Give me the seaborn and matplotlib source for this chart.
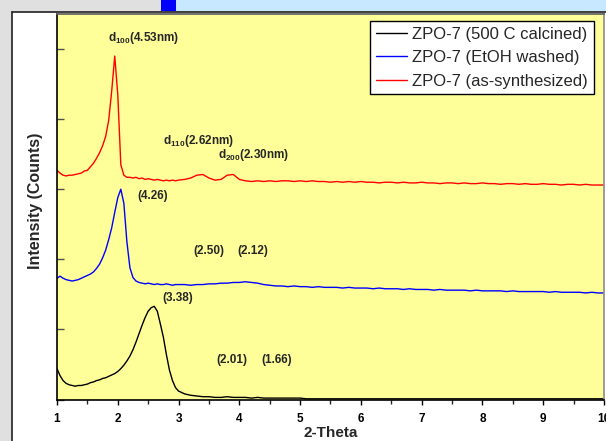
import matplotlib
matplotlib.use("Agg")
import matplotlib.pyplot as plt
from matplotlib.patches import Rectangle
from matplotlib.lines import Line2D
from matplotlib.ticker import MultipleLocator
import seaborn as sns
import pandas as pd

# ---------------- data ----------------
two_theta = [1.00, 1.05, 1.10, 1.15, 1.20, 1.25, 1.30, 1.35, 1.40, 1.45,
             1.50, 1.55, 1.60, 1.65, 1.70, 1.75, 1.80, 1.85, 1.90, 1.95,
             2.00, 2.05, 2.10, 2.15, 2.20, 2.25, 2.30, 2.35, 2.40, 2.45,
             2.50, 2.55, 2.60, 2.65, 2.70, 2.75, 2.80, 2.85, 2.90, 2.95,
             3.00, 3.1, 3.2, 3.3, 3.4, 3.5, 3.6, 3.7, 3.8, 3.9,
             4.0, 4.1, 4.2, 4.3, 4.4, 4.5, 4.6, 4.7, 4.8, 4.9,
             5.0, 5.1, 5.2, 5.3, 5.4, 5.5, 5.6, 5.7, 5.8, 5.9,
             6.0, 6.1, 6.2, 6.3, 6.4, 6.5, 6.6, 6.7, 6.8, 6.9,
             7.0, 7.1, 7.2, 7.3, 7.4, 7.5, 7.6, 7.7, 7.8, 7.9,
             8.0, 8.1, 8.2, 8.3, 8.4, 8.5, 8.6, 8.7, 8.8, 8.9,
             9.0, 9.1, 9.2, 9.3, 9.4, 9.5, 9.6, 9.7, 9.8, 9.9, 10.0]

calcined = [0.44, 0.34, 0.27, 0.23, 0.21, 0.20, 0.19, 0.20, 0.20, 0.21,
            0.22, 0.24, 0.25, 0.27, 0.28, 0.30, 0.31, 0.33, 0.35, 0.37,
            0.40, 0.44, 0.49, 0.55, 0.62, 0.71, 0.82, 0.94, 1.06, 1.17,
            1.26, 1.31, 1.33, 1.26, 1.08, 0.89, 0.64, 0.42, 0.27, 0.17,
            0.12, 0.08, 0.06, 0.05, 0.04, 0.04, 0.03, 0.03, 0.04, 0.03,
            0.03, 0.03, 0.02, 0.03, 0.02, 0.02, 0.02, 0.02, 0.02, 0.02,
            0.02, 0.01, 0.01, 0.01, 0.01, 0.01, 0.01, 0.01, 0.01, 0.01,
            0.01, 0.01, 0.01, 0.01, 0.01, 0.01, 0.01, 0.01, 0.01, 0.01,
            0.01, 0.01, 0.01, 0.01, 0.01, 0.01, 0.01, 0.01, 0.01, 0.01,
            0.01, 0.01, 0.01, 0.01, 0.01, 0.01, 0.01, 0.01, 0.01, 0.01,
            0.01, 0.01, 0.01, 0.01, 0.01, 0.01, 0.01, 0.01, 0.01, 0.01, 0.01]

etoh_washed = [1.73, 1.76, 1.73, 1.71, 1.70, 1.69, 1.70, 1.71, 1.73, 1.75,
               1.77, 1.79, 1.82, 1.87, 1.93, 2.02, 2.13, 2.28, 2.45, 2.67,
               2.88, 3.00, 2.80, 2.25, 1.88, 1.74, 1.69, 1.67, 1.66, 1.65,
               1.66, 1.65, 1.64, 1.65, 1.64, 1.64, 1.65, 1.64, 1.63, 1.64,
               1.64, 1.64, 1.63, 1.64, 1.64, 1.65, 1.65, 1.66, 1.66, 1.67,
               1.67, 1.68, 1.67, 1.66, 1.64, 1.63, 1.62, 1.62, 1.61, 1.62,
               1.61, 1.61, 1.60, 1.61, 1.60, 1.60, 1.60, 1.59, 1.60, 1.59,
               1.59, 1.59, 1.58, 1.59, 1.58, 1.58, 1.58, 1.57, 1.58, 1.57,
               1.57, 1.57, 1.56, 1.57, 1.56, 1.56, 1.56, 1.56, 1.55, 1.56,
               1.55, 1.55, 1.55, 1.55, 1.54, 1.55, 1.54, 1.54, 1.54, 1.54,
               1.54, 1.53, 1.54, 1.53, 1.53, 1.53, 1.53, 1.52, 1.53, 1.52, 1.52]

as_synthesized = [3.27, 3.23, 3.20, 3.19, 3.20, 3.20, 3.21, 3.22, 3.23, 3.26,
                  3.27, 3.32, 3.37, 3.44, 3.52, 3.62, 3.75, 3.98, 4.40, 4.90,
                  4.35, 3.35, 3.20, 3.17, 3.17, 3.16, 3.17, 3.15, 3.16, 3.14,
                  3.15, 3.14, 3.13, 3.14, 3.13, 3.12, 3.13, 3.12, 3.13, 3.12,
                  3.13, 3.14, 3.16, 3.20, 3.21, 3.16, 3.13, 3.14, 3.20, 3.21,
                  3.14, 3.12, 3.11, 3.12, 3.11, 3.12, 3.11, 3.12, 3.12, 3.11,
                  3.12, 3.11, 3.12, 3.11, 3.11, 3.10, 3.11, 3.10, 3.11, 3.10,
                  3.11, 3.10, 3.10, 3.09, 3.10, 3.10, 3.09, 3.10, 3.09, 3.09,
                  3.10, 3.09, 3.09, 3.08, 3.09, 3.09, 3.08, 3.09, 3.08, 3.08,
                  3.09, 3.08, 3.08, 3.07, 3.08, 3.08, 3.07, 3.08, 3.07, 3.07,
                  3.08, 3.07, 3.07, 3.06, 3.07, 3.07, 3.06, 3.07, 3.06, 3.06, 3.06]

series_names = ["ZPO-7 (500 C calcined)", "ZPO-7 (EtOH washed)", "ZPO-7 (as-synthesized)"]
series_colors = ["#000000", "#0000FF", "#FF0000"]
x_ticks = [1, 2, 3, 4, 5, 6, 7, 8, 9, 10]

annotations = [
    ("d$_{100}$(4.53nm)", 1.84, 5.16),
    ("d$_{110}$(2.62nm)", 2.74, 3.69),
    ("d$_{200}$(2.30nm)", 3.65, 3.49),
    ("(4.26)", 2.32, 2.90),
    ("(2.50)", 3.24, 2.12),
    ("(2.12)", 3.96, 2.12),
    ("(3.38)", 2.74, 1.45),
    ("(2.01)", 3.63, 0.56),
    ("(1.66)", 4.37, 0.56),
]

rows = []
for name, vals in zip(series_names, [calcined, etoh_washed, as_synthesized]):
    for x, y in zip(two_theta, vals):
        rows.append({"2-Theta": x, "Intensity": y, "Sample": name})
df = pd.DataFrame(rows)

# ---------------- style ----------------
sns.set_theme(style="ticks")
plt.rcParams["font.family"] = ["Liberation Sans", "DejaVu Sans"]
plt.rcParams["mathtext.fontset"] = "custom"
plt.rcParams["mathtext.rm"] = "Liberation Sans:bold"
plt.rcParams["mathtext.it"] = "Liberation Sans:bold"
plt.rcParams["mathtext.bf"] = "Liberation Sans:bold"

W, H = 606, 441
fig = plt.figure(figsize=(W / 100, H / 100), dpi=100, facecolor="#e0e0e0")

# background decorations (figure coordinates)
fig.add_artist(Rectangle((12 / W, 0), 1 - 12 / W, 1 - 12 / H, transform=fig.transFigure,
                         facecolor="white", edgecolor="none", zorder=0))
fig.add_artist(Line2D([12 / W, 12 / W], [0, 1 - 12 / H], transform=fig.transFigure,
                      color="#202020", lw=1.2, zorder=1))
fig.add_artist(Line2D([12 / W, 1], [1 - 12 / H, 1 - 12 / H], transform=fig.transFigure,
                      color="#202020", lw=1.2, zorder=1))
fig.add_artist(Rectangle((176 / W, 1 - 11 / H), 1 - 176 / W, 11 / H, transform=fig.transFigure,
                         facecolor="#c8e8ff", edgecolor="none", zorder=0))
fig.add_artist(Rectangle((161 / W, 1 - 11 / H), 15 / W, 11 / H, transform=fig.transFigure,
                         facecolor="#0000ff", edgecolor="none", zorder=0))

ax = fig.add_axes([57 / W, (H - 399.5) / H, 547 / W, 385.5 / H])
ax.set_facecolor("#ffff99")

sns.lineplot(data=df, x="2-Theta", y="Intensity", hue="Sample",
             hue_order=series_names, palette=dict(zip(series_names, series_colors)),
             estimator=None, sort=False, linewidth=1.0, ax=ax)

ax.set_xlim(1, 10)
ax.set_ylim(0, 5.5)
ax.set_xticks(x_ticks)
ax.set_xticklabels([str(t) for t in x_ticks], fontsize=8.5, fontweight="bold")
ax.xaxis.set_minor_locator(MultipleLocator(0.5))
ax.tick_params(axis="x", which="major", direction="out", length=3.5, width=1, pad=6, colors="black")
ax.tick_params(axis="x", which="minor", direction="out", length=3, width=1)
ax.set_yticks([0, 1, 2, 3, 4, 5])
ax.set_yticklabels([])
ax.tick_params(axis="y", which="major", direction="in", length=5, width=1, color="#505050")

ax.set_xlabel("2-Theta", fontsize=11, fontweight="bold", labelpad=1)
ax.set_ylabel("Intensity (Counts)", fontsize=11.5, fontweight="bold")
ax.yaxis.set_label_coords(-14 / 547, (399.5 - 201) / 385.5)

for side in ["left", "bottom"]:
    ax.spines[side].set_color("black")
    ax.spines[side].set_linewidth(1.2)
ax.spines["top"].set_color("#606060")
ax.spines["right"].set_color("#909090")

for txt, x, y in annotations:
    ax.text(x, y, txt, fontsize=8.5, fontweight="bold", ha="left", va="center")

leg = ax.legend(loc="upper right", bbox_to_anchor=(0.9817, 0.9818), fontsize=12,
                frameon=True, fancybox=False, framealpha=1, edgecolor="black",
                handlelength=1.9, handletextpad=0.3, labelspacing=0.5,
                borderpad=0.35, borderaxespad=0)
leg.get_frame().set_linewidth(1.0)

fig.savefig("out.png", dpi=100, facecolor=fig.get_facecolor())
